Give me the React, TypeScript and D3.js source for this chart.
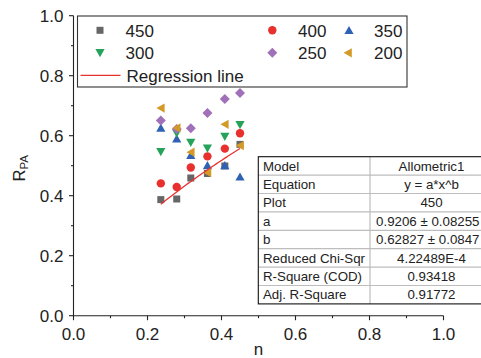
import React from "react";
import * as d3 from "d3";

// Porosity-type exponent n and the resulting R_PA for each temperature series
const nValues = [0.236, 0.279, 0.317, 0.362, 0.409, 0.45];
const s450 = [0.387, 0.389, 0.459, 0.474, 0.499, 0.571];
const s400 = [0.441, 0.429, 0.494, 0.531, 0.557, 0.608];
const s350 = [0.626, 0.59, 0.535, 0.501, 0.501, 0.463];
const s300 = [0.546, 0.608, 0.577, 0.558, 0.597, 0.636];
const s250 = [0.651, 0.622, 0.625, 0.676, 0.722, 0.742];
const s200 = [0.692, 0.626, 0.545, 0.477, 0.638, 0.567];

const seriesNames = ["450", "400", "350", "300", "250", "200"];
const seriesValues = [s450, s400, s350, s300, s250, s200];
const seriesColors = ["#666666", "#e8302f", "#2f62b4", "#25a35a", "#a070b8", "#d49a28"];
const seriesShapes = ["square", "circle", "up", "down", "diamond", "left"];

// Allometric1 fit of the 450 series: y = a * x^b
const fitA = 0.9206;
const fitB = 0.62827;

const tableRows: [string, string][] = [
  ["Model", "Allometric1"],
  ["Equation", "y = a*x^b"],
  ["Plot", "450"],
  ["a", "0.9206 \u00b1 0.08255"],
  ["b", "0.62827 \u00b1 0.0847"],
  ["Reduced Chi-Sqr", "4.22489E-4"],
  ["R-Square (COD)", "0.93418"],
  ["Adj. R-Square", "0.91772"],
];

const W = 481;
const H = 358;
const FONT = "'Liberation Sans', Arial, Helvetica, sans-serif";
const TEXT = "#222";

const x = d3.scaleLinear().domain([0, 1]).range([73.5, 443.5]);
const y = d3.scaleLinear().domain([0, 1]).range([315.7, 15.7]);

function Marker({ shape, cx, cy, color }: { shape: string; cx: number; cy: number; color: string }) {
  switch (shape) {
    case "square":
      return <rect x={cx - 3.5} y={cy - 3.5} width={7} height={7} fill={color} />;
    case "circle":
      return <circle cx={cx} cy={cy} r={4.2} fill={color} />;
    case "up":
      return <polygon points={`${cx - 4.6},${cy + 3.8} ${cx + 4.6},${cy + 3.8} ${cx},${cy - 4.4}`} fill={color} />;
    case "down":
      return <polygon points={`${cx - 4.6},${cy - 3.8} ${cx + 4.6},${cy - 3.8} ${cx},${cy + 4.4}`} fill={color} />;
    case "diamond":
      return <polygon points={`${cx},${cy - 5} ${cx + 5},${cy} ${cx},${cy + 5} ${cx - 5},${cy}`} fill={color} />;
    case "left":
      return <polygon points={`${cx + 3.8},${cy - 4.6} ${cx + 3.8},${cy + 4.6} ${cx - 4.4},${cy}`} fill={color} />;
    default:
      return null;
  }
}

export default function App() {
  const majorTicks = x.ticks(5);
  const minorTicks = d3.range(0.1, 1, 0.2);

  const nMin = d3.min(nValues) as number;
  const nMax = d3.max(nValues) as number;
  const fitPts = d3.range(0, 41).map((i) => nMin + ((nMax - nMin) * i) / 40);
  const fitLine = d3
    .line<number>()
    .x((d) => x(d))
    .y((d) => y(fitA * Math.pow(d, fitB)))(fitPts);

  // stats table geometry
  const tLeft = 258.3;
  const tTop = 156.7;
  const rowH = 18.4;
  const tDiv = 370;
  const tRight = 493;
  const tBottom = tTop + rowH * tableRows.length;
  const tFont = 13.3;
  const valueCenter = (tDiv + tRight) / 2;
  // keep long values inside the visible canvas
  const approxWidth = (s: string) => s.length * 0.53 * tFont;

  // legend layout: [marker x, text x, row]
  const legendPos: [number, number, number][] = [
    [100, 125.5, 0],
    [272.3, 298, 0],
    [349, 374, 0],
    [100, 125.5, 1],
    [272.3, 298, 1],
    [348, 374, 1],
  ];
  const rowY = [30.3, 52.8, 75.3];

  return (
    <svg
      width={W}
      height={H}
      style={{ position: "absolute", left: 0, top: 0, background: "#fff" }}
      fontFamily={FONT}
    >
      <rect width={W} height={H} fill="#fff" />

      {/* axes */}
      <g stroke="#222" strokeWidth={1.1} fill="none">
        <line x1={x(0)} x2={x(0)} y1={y(1)} y2={y(0) + 0.5} />
        <line x1={x(0) - 0.5} x2={x(1)} y1={y(0)} y2={y(0)} />
        {majorTicks.map((t) => (
          <line key={"xm" + t} x1={x(t)} x2={x(t)} y1={y(0)} y2={y(0) + 4.5} />
        ))}
        {minorTicks.map((t) => (
          <line key={"xn" + t} x1={x(t)} x2={x(t)} y1={y(0)} y2={y(0) + 2.5} />
        ))}
        {majorTicks.map((t) => (
          <line key={"ym" + t} x1={x(0) - 4.5} x2={x(0)} y1={y(t)} y2={y(t)} />
        ))}
        {minorTicks.map((t) => (
          <line key={"yn" + t} x1={x(0) - 2.5} x2={x(0)} y1={y(t)} y2={y(t)} />
        ))}
      </g>
      <g fill={TEXT} fontSize={17}>
        {majorTicks.map((t) => (
          <text key={"xl" + t} x={x(t)} y={340} textAnchor="middle">
            {d3.format(".1f")(t)}
          </text>
        ))}
        {majorTicks.map((t) => (
          <text key={"yl" + t} x={63.5} y={y(t) + 6} textAnchor="end">
            {d3.format(".1f")(t)}
          </text>
        ))}
        <text x={x(0.5)} y={355} textAnchor="middle">
          n
        </text>
        <text transform="translate(25.3,181.5) rotate(-90)" textAnchor="start" fontSize={16.5}>
          R
          <tspan fontSize={11.5} dy={3}>
            PA
          </tspan>
        </text>
      </g>

      {/* data points */}
      {seriesValues.map((vals, si) => (
        <g key={seriesNames[si]}>
          {vals.map((v, i) => (
            <Marker key={i} shape={seriesShapes[si]} cx={x(nValues[i])} cy={y(v)} color={seriesColors[si]} />
          ))}
        </g>
      ))}

      {/* fitted curve for the 450 series */}
      <path d={fitLine ?? ""} fill="none" stroke="#e8302f" strokeWidth={1.3} />

      {/* legend */}
      <rect x={77.5} y={16} width={329.5} height={71} fill="none" stroke="#333" strokeWidth={1.1} />
      {seriesNames.map((name, i) => {
        const [mx, tx, r] = legendPos[i];
        return (
          <g key={"lg" + name}>
            <Marker shape={seriesShapes[i]} cx={mx} cy={rowY[r]} color={seriesColors[i]} />
            <text x={tx} y={rowY[r] + 6.2} fontSize={17} fill={TEXT}>
              {name}
            </text>
          </g>
        );
      })}
      <line x1={80.5} x2={120.5} y1={rowY[2]} y2={rowY[2]} stroke="#e8302f" strokeWidth={1.3} />
      <text x={126.5} y={rowY[2] + 6.2} fontSize={17} fill={TEXT}>
        Regression line
      </text>

      {/* fit statistics table */}
      <rect x={tLeft} y={tTop} width={tRight - tLeft} height={tBottom - tTop} fill="#fff" />
      <g stroke="#bdbdbd" strokeWidth={1.2}>
        {tableRows.slice(1).map((_, i) => (
          <line key={"hr" + i} x1={tLeft} x2={tRight} y1={tTop + rowH * (i + 1)} y2={tTop + rowH * (i + 1)} />
        ))}
        <line x1={tDiv} x2={tDiv} y1={tTop} y2={tBottom} />
      </g>
      <rect x={tLeft} y={tTop} width={tRight - tLeft} height={tBottom - tTop} fill="none" stroke="#111" strokeWidth={1.1} />
      <g fontSize={tFont} fill={TEXT}>
        {tableRows.map(([k, v], i) => {
          const ty = tTop + rowH * i + rowH / 2 + 4.7;
          const overflow = valueCenter + approxWidth(v) / 2 > W - 1.5;
          return (
            <g key={"tr" + i}>
              <text x={263} y={ty}>
                {k}
              </text>
              <text
                x={overflow ? W - 1.5 : valueCenter}
                y={ty}
                textAnchor={overflow ? "end" : "middle"}
              >
                {v}
              </text>
            </g>
          );
        })}
      </g>
    </svg>
  );
}
